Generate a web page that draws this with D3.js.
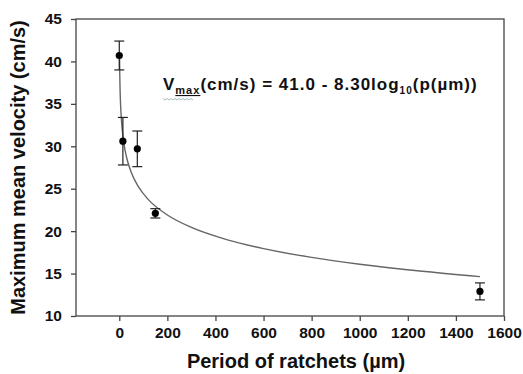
<!DOCTYPE html>
<html>
<head>
<meta charset="utf-8">
<script src="https://cdn.jsdelivr.net/npm/d3@7"></script>
<style>
  body { margin: 0; background: #fff; }
  text { font-family: "Liberation Sans", Arial, sans-serif; fill: #111; }
  .axis path, .axis line { stroke: #444; stroke-width: 1.3; }
  .axis text { font-size: 15.5px; font-weight: bold; }
</style>
</head>
<body>
<svg width="523" height="374"></svg>
<script>
// measured points (period in um, velocity in cm/s, error)
var period = [0, 15, 75, 150, 1500];
var velocity = [40.7, 30.6, 29.7, 22.1, 12.9];
var errs = [1.7, 2.8, 2.1, 0.55, 1.0];

var xTicks = [0, 200, 400, 600, 800, 1000, 1200, 1400, 1600];
var yTicks = [10, 15, 20, 25, 30, 35, 40, 45];

// fit: V = 41.0 - 8.30 log10(p)
var fitA = 41.0, fitB = 8.30;
var fitP = [1, 1.5, 2, 3, 5, 8, 12, 20, 30, 50, 80, 120, 200, 300, 450, 600, 800, 1000, 1250, 1500];

var svg = d3.select("svg"),
    margin = {top: 19, right: 19, bottom: 58, left: 76},
    width = +svg.attr("width") - margin.left - margin.right,
    height = +svg.attr("height") - margin.top - margin.bottom;

var x = d3.scaleLinear().domain([-180, 1600]).range([0, width]),
    y = d3.scaleLinear().domain([10, 45]).range([height, 0]);

var g = svg.append("g")
    .attr("transform", "translate(" + margin.left + "," + margin.top + ")");

// frame
g.append("rect")
    .attr("width", width)
    .attr("height", height)
    .attr("fill", "none")
    .attr("stroke", "#444")
    .attr("stroke-width", 1.3);

g.append("g")
    .attr("class", "axis")
    .attr("transform", "translate(0," + height + ")")
    .call(d3.axisBottom(x).tickValues(xTicks).tickFormat(d3.format("d")).tickSize(5).tickSizeOuter(0).tickPadding(6))
    .call(function(a) { a.select(".domain").remove(); });

g.append("g")
    .attr("class", "axis")
    .call(d3.axisLeft(y).tickValues(yTicks).tickSize(5).tickSizeOuter(0).tickPadding(9))
    .call(function(a) { a.select(".domain").remove(); });

// fit curve
var line = d3.line()
    .curve(d3.curveMonotoneX)
    .x(function(p) { return x(p); })
    .y(function(p) { return y(fitA - fitB * Math.log10(p)); });

g.append("path")
    .datum(fitP)
    .attr("d", line)
    .attr("fill", "none")
    .attr("stroke", "#666")
    .attr("stroke-width", 1.4);

// error bars
var pts = period.map(function(p, i) { return {p: p, v: velocity[i], e: errs[i]}; });

var eb = g.selectAll(".eb").data(pts).enter().append("g").attr("class", "eb");
eb.append("line")
    .attr("x1", function(d) { return x(d.p); })
    .attr("x2", function(d) { return x(d.p); })
    .attr("y1", function(d) { return y(d.v + d.e); })
    .attr("y2", function(d) { return y(d.v - d.e); })
    .attr("stroke", "#222").attr("stroke-width", 1.2);
[1, -1].forEach(function(s) {
  eb.append("line")
      .attr("x1", function(d) { return x(d.p) - 5; })
      .attr("x2", function(d) { return x(d.p) + 5; })
      .attr("y1", function(d) { return y(d.v + s * d.e); })
      .attr("y2", function(d) { return y(d.v + s * d.e); })
      .attr("stroke", "#222").attr("stroke-width", 1.2);
});
eb.append("circle")
    .attr("cx", function(d) { return x(d.p); })
    .attr("cy", function(d) { return y(d.v); })
    .attr("r", 3.6)
    .attr("fill", "#000");

// equation
var eq = svg.append("text")
    .attr("x", 163)
    .attr("y", 90)
    .attr("font-size", 17)
    .attr("font-weight", "bold")
    .attr("letter-spacing", 1);
eq.append("tspan").text("V");
eq.append("tspan").attr("font-size", 11).attr("dy", 4).attr("text-decoration", "underline").text("max");
eq.append("tspan").attr("dy", -4).text("(cm/s) = 41.0 - 8.30log");
eq.append("tspan").attr("font-size", 10).attr("dy", 4).text("10");
eq.append("tspan").attr("dy", -4).text("(p(\u00b5m))");

// spell-check squiggle under Vmax
var sq = d3.range(0, 16).map(function(i) { return [163 + i * 2, 99 + (i % 2 ? 1 : -0.5)]; });
svg.append("path")
    .attr("d", d3.line()(sq))
    .attr("fill", "none")
    .attr("stroke", "#8aa")
    .attr("stroke-width", 0.8);

// axis titles
svg.append("text")
    .attr("x", 296)
    .attr("y", 368)
    .attr("text-anchor", "middle")
    .attr("font-size", 20)
    .attr("font-weight", "bold")
    .text("Period of ratchets (\u00b5m)");

svg.append("text")
    .attr("transform", "translate(25," + (margin.top + height / 2) + ") rotate(-90)")
    .attr("text-anchor", "middle")
    .attr("font-size", 20)
    .attr("font-weight", "bold")
    .text("Maximum mean velocity (cm/s)");
</script>
</body>
</html>
